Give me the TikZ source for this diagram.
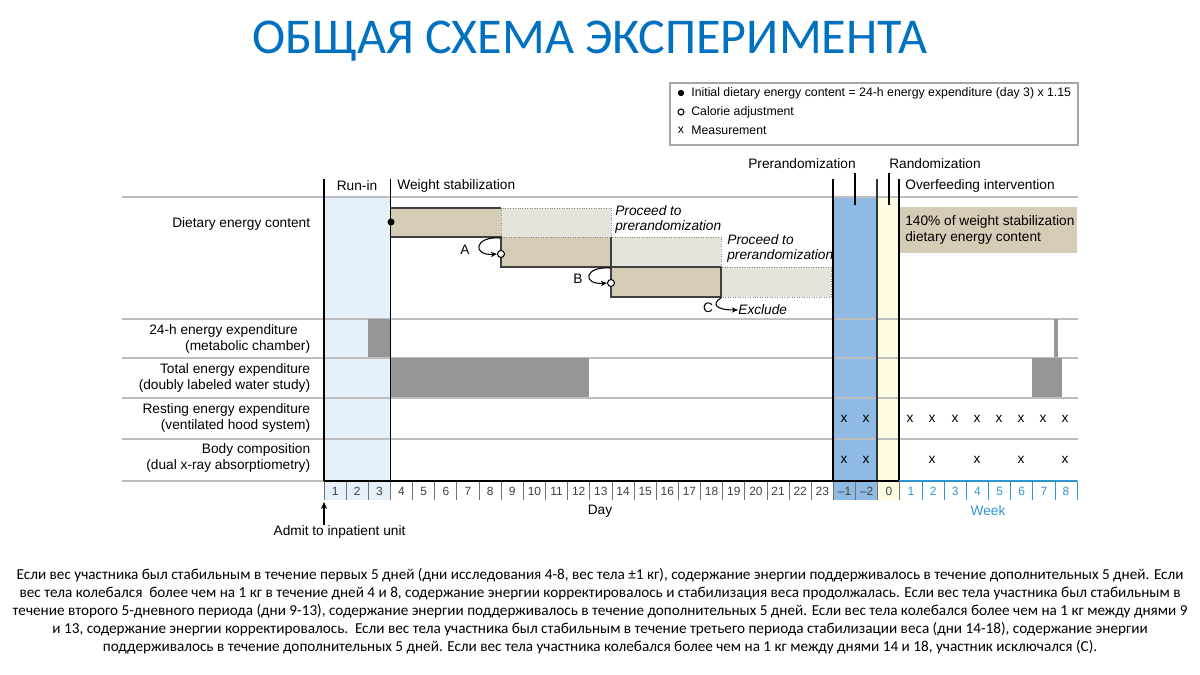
\documentclass[tikz,border=0pt]{standalone}
\usepackage{fontspec}
\setmainfont{Liberation Sans}
\newfontfamily\calibri{Carlito}
\usetikzlibrary{arrows.meta}

\definecolor{titleblue}{RGB}{0,112,192}
\definecolor{runinblue}{RGB}{230,240,250}
\definecolor{prerandblue}{RGB}{143,186,228}
\definecolor{randyellow}{RGB}{255,252,226}
\definecolor{dietan}{RGB}{213,204,182}
\definecolor{dietlight}{RGB}{230,227,218}
\definecolor{bargray}{RGB}{150,150,153}
\definecolor{rowgray}{RGB}{190,190,190}
\definecolor{weekblue}{RGB}{45,150,205}

\begin{document}
\begin{tikzpicture}[x=0.02cm,y=-0.02cm,
  txt/.style={font=\fontsize{7.8}{9.1}\selectfont,inner sep=0pt},
  legtxt/.style={font=\fontsize{7}{8}\selectfont,inner sep=0pt},
  rowlab/.style={txt,anchor=east,align=right},
  proceed/.style={txt,font=\fontsize{7.8}{8.6}\selectfont\itshape,anchor=north west,align=left},
  axisnum/.style={inner sep=0pt,font=\fontsize{6.8}{8}\selectfont,text=black!75},
  xmark/.style={txt},
  adjust/.style={circle,draw,line width=0.6pt,fill=white,inner sep=0pt,minimum size=4pt},
  phaseline/.style={line width=1.1pt,black},
  rowline/.style={line width=0.9pt,rowgray},
  barline/.style={line width=0.6pt,black!75},
  dotline/.style={line width=0.4pt,black!45,densely dotted},
  hookarrow/.style={line width=0.6pt,black,-{Stealth[length=3.5pt,width=3pt]}}]
\useasboundingbox[fill=white] (0,0) rectangle (1200,675);

% title
\node[font=\calibri\fontsize{28.5}{30}\selectfont,text=titleblue] (title) at (590,41) {ОБЩАЯ СХЕМА ЭКСПЕРИМЕНТА};

% legend
\draw[line width=0.6pt,black!35] (670,83) rectangle (1078,145);
\fill (681,93) circle (3.2);
\draw[line width=0.6pt,fill=white] (681,112) circle (3);
\node[legtxt] at (681,130) {x};
\node[legtxt,anchor=west] (leg1) at (691,93) {Initial dietary energy content = 24-h energy expenditure (day 3) x 1.15};
\node[legtxt,anchor=west] (leg2) at (691,112) {Calorie adjustment};
\node[legtxt,anchor=west] (leg3) at (691,130) {Measurement};

% phase bands
\fill[runinblue] (324,197) rectangle (390.5,500);
\fill[prerandblue] (833,197) rectangle (877,500);
\fill[randyellow] (877,197) rectangle (899,500);

% row lines
\foreach \y in {197,319,358,398,439,481}
  \draw[rowline] (122,\y) -- (1078,\y);

% dietary energy content
\fill[dietan] (391,208) rectangle (501,237);
\fill[dietlight] (501,208) rectangle (611,237);
\fill[dietan] (501,237) rectangle (611,267);
\fill[dietlight] (611,237) rectangle (721,267);
\fill[dietan] (611,267) rectangle (721,297);
\fill[dietlight] (721,267) rectangle (831,297);
\draw[dotline] (501,208) rectangle (611,237);
\draw[dotline] (611,237) rectangle (721,267);
\draw[dotline] (721,267) rectangle (831,297);
\draw[barline] (391,208) -- (501,208);
\draw[barline] (391,237) -- (501,237) -- (501,267) -- (721,267);
\draw[barline] (611,237) -- (611,297) -- (721,297) -- (721,267);
\fill (391,222) circle (3.5);
\node[adjust] (adjA) at (501,254) {};
\node[adjust] (adjB) at (611,283) {};
\coordinate (cornerA) at (500,238);
\coordinate (cornerB) at (610,268);
\coordinate (cornerC) at (721,298);
\node[txt] (labA) at (465,250) {A};
\node[txt] (labB) at (578,279) {B};
\node[txt] (labC) at (708,308) {C};
\node[txt,anchor=west,font=\fontsize{7.8}{9.1}\selectfont\itshape] (exclude) at (738,310) {Exclude};
\draw[hookarrow] (cornerA) .. controls (474,236) and (472,256) .. (adjA.west);
\draw[hookarrow] (cornerB) .. controls (584,266) and (582,285) .. (adjB.west);
\draw[hookarrow] (cornerC) .. controls (711,304) and (716,310) .. (exclude.west);
\node[proceed] (proc1) at (615,205) {Proceed to\\prerandomization};
\node[proceed] (proc2) at (727,234) {Proceed to\\prerandomization};
\fill[dietan] (899,207) rectangle (1077,253);
\node[txt,anchor=north west,align=left] (over) at (905,215) {140\% of weight stabilization\\dietary energy content};

% energy expenditure bars
\fill[bargray] (368,319.5) rectangle (391,357.5);
\fill[bargray] (1054,319.5) rectangle (1058,357.5);
\fill[bargray] (391,358.5) rectangle (589,397.5);
\fill[bargray] (1032,358.5) rectangle (1062,397.5);

% measurements
\foreach \x in {844,866,910,932,955,977,999,1021,1043,1065}
  \node[xmark] at (\x,419) {x};
\foreach \x in {844,866,932,977,1021,1065}
  \node[xmark] at (\x,460) {x};

% phase lines
\draw[phaseline] (324,179) -- (324,481);
\draw[phaseline] (390.5,179) -- (390.5,481);
\draw[phaseline] (833,179) -- (833,481);
\draw[line width=0.6pt,black!80] (877,179) -- (877,481);
\draw[line width=0.8pt,black] (899,179) -- (899,481);
\draw[phaseline] (855,173) -- (855,205);
\draw[phaseline] (889,173) -- (889,205);

% phase headers
\node[txt] (runin) at (357,186) {Run-in};
\node[txt,anchor=west] (stab) at (397,186) {Weight stabilization};
\node[txt] (prerand) at (802,164) {Prerandomization};
\node[txt] (rand) at (935,164) {Randomization};
\node[txt,anchor=west] (overfeed) at (905,186) {Overfeeding intervention};

% row labels
\node[rowlab] (diet) at (310.5,224) {Dietary energy content};
\node[rowlab] (ee24) at (310.5,339) {24-h energy expenditure\hspace*{7pt}\\(metabolic chamber)};
\node[rowlab] (tee) at (310.5,378) {Total energy expenditure\\(doubly labeled water study)};
\node[rowlab] (ree) at (310.5,418) {Resting energy expenditure\\(ventilated hood system)};
\node[rowlab] (body) at (310.5,458) {Body composition\\(dual x-ray absorptiometry)};

% time axis
\fill[runinblue] (324,481) rectangle (390.5,500);
\fill[prerandblue] (833,481) rectangle (877,500);
\fill[randyellow] (877,481) rectangle (899,500);
\foreach \k in {0,...,26}
  \draw[line width=0.5pt,black!55] ({324+\k*22.15},481) -- ({324+\k*22.15},500);
\foreach \k in {27,...,34}
  \draw[line width=0.5pt,weekblue] ({324+\k*22.15},481) -- ({324+\k*22.15},500);
\draw[line width=1.1pt,black] (323.5,481) -- (899,481);
\draw[line width=1.1pt,weekblue] (899,481) -- (1077,481);
\foreach \k in {1,...,23}
  \node[axisnum] at ({324+(\k-0.5)*22.15},491) {\k};
\node[axisnum] at ({324+23.5*22.15},491) {–1};
\node[axisnum] at ({324+24.5*22.15},491) {–2};
\node[axisnum] at ({324+25.5*22.15},491) {0};
\foreach \w in {1,...,8}
  \node[axisnum,text=weekblue] at ({324+(25.5+\w)*22.15},491) {\w};
\node[txt] (day) at (600,511) {Day};
\node[txt,text=weekblue] (week) at (988,511) {Week};
\node[txt] (admit) at (339.5,532) {Admit to inpatient unit};
\coordinate (admitfoot) at (324,525);
\coordinate (dayone) at (324,502);
\draw[line width=0.6pt,-{Stealth[length=4pt,width=3.5pt]}] (admitfoot) -- (dayone);

% explanation
\node[font=\calibri\fontsize{8.65}{10.25}\selectfont,align=center,inner sep=0pt] (expl) at (600,611) {Если вес участника был стабильным в течение первых 5 дней (дни исследования 4-8, вес тела ±1 кг), содержание энергии поддерживалось в течение дополнительных 5 дней. Если\\вес тела колебался\ \ более чем на 1 кг в течение дней 4 и 8, содержание энергии корректировалось и стабилизация веса продолжалась. Если вес тела участника был стабильным в\\течение второго 5-дневного периода (дни 9-13), содержание энергии поддерживалось в течение дополнительных 5 дней. Если вес тела колебался более чем на 1 кг между днями 9\\и 13, содержание энергии корректировалось.\ \ Если вес тела участника был стабильным в течение третьего периода стабилизации веса (дни 14-18), содержание энергии\\поддерживалось в течение дополнительных 5 дней. Если вес тела участника колебался более чем на 1 кг между днями 14 и 18, участник исключался (С).};
\end{tikzpicture}
\end{document}
